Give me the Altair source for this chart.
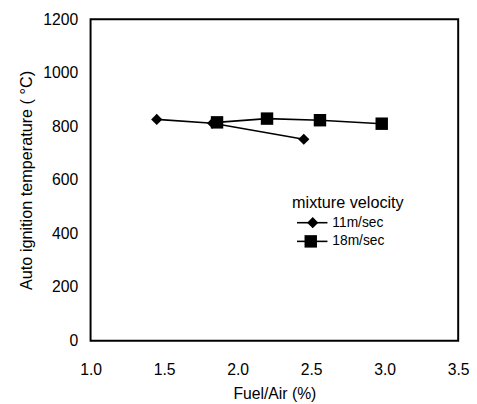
import altair as alt
import pandas as pd

s11_x = [1.45, 1.83, 2.45]
s11_y = [826, 812, 752]
s18_x = [1.86, 2.20, 2.56, 2.98]
s18_y = [815, 829, 823, 810]
series_names = ["11m/sec", "18m/sec"]
legend_title = "mixture velocity"

df11 = pd.DataFrame({"x": s11_x, "y": s11_y, "s": series_names[0]})
df18 = pd.DataFrame({"x": s18_x, "y": s18_y, "s": series_names[1]})

FONT = "Liberation Sans"

xs = alt.Scale(domain=[1.0, 3.5], nice=False)
ys = alt.Scale(domain=[0, 1200], nice=False)

xax = alt.Axis(values=[1.0, 1.5, 2.0, 2.5, 3.0, 3.5], format=".1f", ticks=False,
               domain=False, grid=False, labelPadding=21, labelFontSize=16,
               labelFont=FONT, labelColor="black", title="Fuel/Air (%)",
               titleFont=FONT, titleFontSize=16, titleFontWeight="normal",
               titleColor="black", titlePadding=9, labelFlush=False)
yax = alt.Axis(values=[0, 200, 400, 600, 800, 1000, 1200], format="d", ticks=False,
               domain=False, grid=False, labelPadding=13, labelFontSize=16,
               labelFont=FONT, labelColor="black",
               title="Auto ignition temperature ( \u00b0C)",
               titleFont=FONT, titleFontSize=16.5, titleFontWeight="normal",
               titleColor="black", titlePadding=8, labelFlush=False)

def series(df, shape, size):
    base = alt.Chart(df).encode(x=alt.X("x:Q", scale=xs, axis=xax),
                                y=alt.Y("y:Q", scale=ys, axis=yax))
    line = base.mark_line(color="black", strokeWidth=1.6)
    pts = base.mark_point(shape=shape, size=size, filled=True, color="black", opacity=1)
    return line + pts

l11 = series(df11, "diamond", 130)
l18 = series(df18, "square", 160)

# legend (decoration)
leg_title = alt.Chart(pd.DataFrame({"t": [legend_title]})).mark_text(
    font=FONT, fontSize=16.5, align="left", baseline="middle", color="black"
).encode(x=alt.value(205), y=alt.value(187), text="t:N")

ldf = pd.DataFrame({"name": series_names})

leg_rule1 = alt.Chart(ldf.iloc[[0]]).mark_rule(color="black", strokeWidth=1.6).encode(
    x=alt.value(210), x2=alt.value(241), y=alt.value(207))
leg_rule2 = alt.Chart(ldf.iloc[[1]]).mark_rule(color="black", strokeWidth=1.6).encode(
    x=alt.value(210), x2=alt.value(241), y=alt.value(226))
leg_pt1 = alt.Chart(ldf.iloc[[0]]).mark_point(shape="diamond", size=130, filled=True,
                                               color="black", opacity=1).encode(
    x=alt.value(226), y=alt.value(207))
leg_pt2 = alt.Chart(ldf.iloc[[1]]).mark_point(shape="square", size=160, filled=True,
                                               color="black", opacity=1).encode(
    x=alt.value(224), y=alt.value(226))
leg_txt1 = alt.Chart(ldf.iloc[[0]]).mark_text(font=FONT, fontSize=14, align="left",
                                              baseline="middle", color="black").encode(
    x=alt.value(246), y=alt.value(207), text="name:N")
leg_txt2 = alt.Chart(ldf.iloc[[1]]).mark_text(font=FONT, fontSize=14, align="left",
                                              baseline="middle", color="black").encode(
    x=alt.value(246), y=alt.value(226), text="name:N")

chart = alt.layer(l11, l18, leg_title, leg_rule1, leg_rule2, leg_pt1, leg_pt2,
                  leg_txt1, leg_txt2).properties(
    width=374, height=327,
    autosize=alt.AutoSizeParams(type="none"),
    padding={"left": 84, "top": 8, "right": 11, "bottom": 60},
    background="white",
).configure_view(stroke="black", strokeWidth=2)

chart.save("out.html", embed_options={"renderer": "svg", "actions": False})
